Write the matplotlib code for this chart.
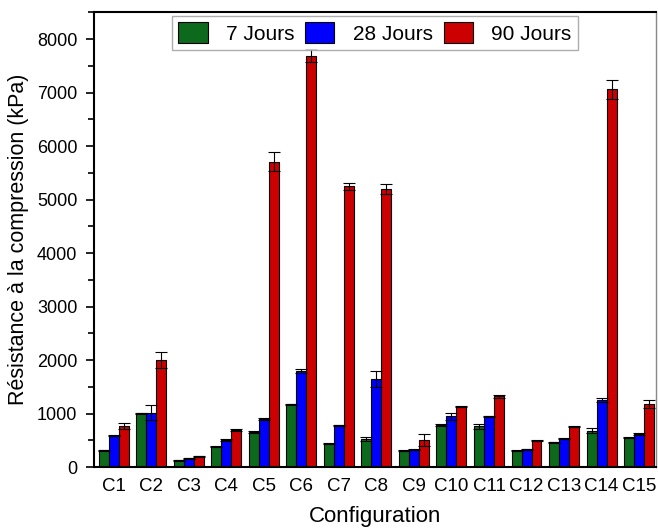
import matplotlib.pyplot as plt
from matplotlib.ticker import MultipleLocator
import numpy as np

plt.rcParams["font.family"] = ["Liberation Sans", "DejaVu Sans"]

configs = ["C1", "C2", "C3", "C4", "C5", "C6", "C7", "C8",
           "C9", "C10", "C11", "C12", "C13", "C14", "C15"]

# compressive strength (kPa)
j7 = [315, 1005, 125, 380, 655, 1172, 436, 523, 305, 785, 760, 305, 461, 679, 548]
j28 = [585, 1015, 162, 505, 903, 1800, 785, 1645, 323, 953, 953, 330, 530, 1252, 611]
j90 = [766, 2000, 200, 686, 5707, 7695, 5252, 5196, 505, 1127, 1321, 492, 754, 7060, 1178]

# standard deviations
e7 = [10, 10, 5, 10, 10, 10, 10, 35, 5, 20, 50, 5, 10, 50, 10]
e28 = [10, 140, 5, 10, 15, 35, 10, 150, 10, 65, 10, 10, 10, 40, 20]
e90 = [60, 155, 5, 20, 175, 125, 65, 95, 110, 10, 35, 5, 10, 170, 75]

series = [
    ("7 Jours", j7, e7, "#0d6a1d"),
    ("28 Jours", j28, e28, "#0000ff"),
    ("90 Jours", j90, e90, "#cc0000"),
]

fig = plt.figure(figsize=(6.58, 5.31), dpi=100)
ax = fig.add_axes([0.143, 0.1205, 0.854, 0.856])

x = np.arange(1, len(configs) + 1)
width = 0.266
for i, (label, vals, errs, color) in enumerate(series):
    ax.bar(x + (i - 1) * width, vals, width, color=color, edgecolor="black",
           linewidth=0.8, label=label,
           yerr=errs, capsize=4,
           error_kw=dict(ecolor="black", elinewidth=0.8, capthick=0.8))

ax.set_xlim(0.48, 15.45)
ax.set_ylim(0, 8500)
ax.set_xticks(x)
ax.set_xticklabels(configs, fontsize=13.5)
ax.tick_params(axis="x", length=0, pad=8)
ax.yaxis.set_major_locator(MultipleLocator(1000))
ax.yaxis.set_minor_locator(MultipleLocator(500))
ax.tick_params(axis="y", which="major", direction="out", length=6, width=1.2,
               labelsize=13, pad=6)
ax.tick_params(axis="y", which="minor", direction="out", length=4, width=1.2)

for side in ["left", "bottom", "top"]:
    ax.spines[side].set_linewidth(1.5)
ax.spines["right"].set_linewidth(1.0)
ax.spines["right"].set_color("#888888")

ax.set_xlabel("Configuration", fontsize=16, labelpad=8)
ax.set_ylabel("Résistance à la compression (kPa)", fontsize=15.5, labelpad=6)

leg = ax.legend(loc="upper center", ncol=3, fontsize=15, frameon=True,
                fancybox=False, edgecolor="#999999", borderpad=0.3,
                handlelength=1.4, handleheight=1.2, handletextpad=0.9,
                columnspacing=0.5, borderaxespad=0.15)
leg.get_frame().set_linewidth(1.0)

fig.savefig("out.png", dpi=100)
